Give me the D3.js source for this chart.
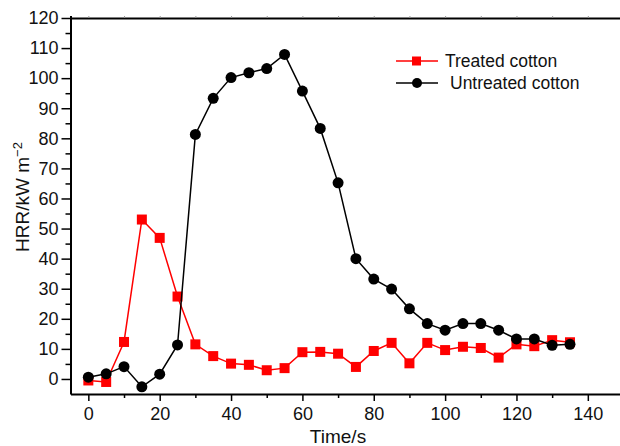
<!DOCTYPE html>
<html>
<head>
<meta charset="utf-8">
<script src="https://cdn.jsdelivr.net/npm/d3@7"></script>
<style>
  html, body { margin: 0; padding: 0; background: #fff; }
  text { font-family: "Liberation Sans", Arial, Helvetica, sans-serif; fill: #111; }
</style>
</head>
<body>
<div id="chart"></div>
<script>
// time axis (s)
const times = [0, 5, 10, 15, 20, 25, 30, 35, 40, 45, 50, 55, 60, 65, 70, 75, 80, 85, 90, 95, 100, 105, 110, 115, 120, 125, 130, 135];
// HRR values
const treated = [-0.5, -1, 12.3, 53, 46.9, 27.4, 11.5, 7.6, 5.1, 4.7, 2.9, 3.6, 8.9, 9, 8.4, 4, 9.3, 12, 5.2, 12, 9.6, 10.7, 10.3, 7.1, 11.5, 10.9, 12.9, 12.2];
const untreated = [0.6, 1.7, 4.1, -2.6, 1.6, 11.3, 81.3, 93.3, 100.2, 101.8, 103.2, 107.9, 95.7, 83.3, 65.2, 40, 33.2, 29.9, 23.3, 18.4, 16.2, 18.4, 18.4, 16.2, 13.3, 13.3, 11.2, 11.5];
const seriesNames = ["Treated cotton", "Untreated cotton"];
const xTicks = [0, 20, 40, 60, 80, 100, 120, 140];
const yTicks = [0, 10, 20, 30, 40, 50, 60, 70, 80, 90, 100, 110, 120];

const w = 620, h = 446;
const svg = d3.select('#chart').append('svg')
    .attr('width', w)
    .attr('height', h);

const x = d3.scaleLinear().domain([-5, 150]).range([70.5, 623.5]);
const y = d3.scaleLinear().domain([-5, 120]).range([394, 18]);

// top frame line with small ticks
svg.append('g')
    .attr('transform', `translate(0,${y(120)})`)
    .call(d3.axisTop(x).tickValues(d3.range(0, 151, 10)).tickSize(2).tickFormat(''))
    .call(g => g.select('.domain').attr('stroke-width', 2))
    .call(g => g.selectAll('.tick line').attr('stroke', '#999'));

// bottom axis, minor then major
svg.append('g')
    .attr('transform', `translate(0,${y(-5)})`)
    .call(d3.axisBottom(x).tickValues(d3.range(10, 141, 20)).tickSize(4).tickFormat(''))
    .call(g => g.select('.domain').remove())
    .call(g => g.selectAll('.tick line').attr('stroke-width', 1.5));
svg.append('g')
    .attr('transform', `translate(0,${y(-5)})`)
    .call(d3.axisBottom(x).tickValues(xTicks).tickSize(7).tickPadding(6).tickSizeOuter(0))
    .call(g => g.select('.domain').attr('stroke-width', 2))
    .call(g => g.selectAll('.tick line').attr('stroke-width', 1.5))
    .call(g => g.selectAll('text').attr('font-size', 18).attr('font-family', '"Liberation Sans", Arial, sans-serif').attr('fill', '#111'));

// left axis, minor then major
svg.append('g')
    .attr('transform', `translate(${x(-5)},0)`)
    .call(d3.axisLeft(y).tickValues(d3.range(-5, 121, 10).filter(v => v > -5)).tickSize(5).tickFormat(''))
    .call(g => g.select('.domain').remove())
    .call(g => g.selectAll('.tick line').attr('stroke-width', 1.5));
svg.append('g')
    .attr('transform', `translate(${x(-5)},0)`)
    .call(d3.axisLeft(y).tickValues(yTicks).tickSize(9).tickPadding(3).tickSizeOuter(0))
    .call(g => g.select('.domain').attr('stroke-width', 2))
    .call(g => g.selectAll('.tick line').attr('stroke-width', 1.5))
    .call(g => g.selectAll('text').attr('font-size', 18).attr('font-family', '"Liberation Sans", Arial, sans-serif').attr('fill', '#111'));

// axis titles
svg.append('text')
    .attr('x', 338).attr('y', 443)
    .attr('text-anchor', 'middle')
    .attr('font-size', 19)
    .text('Time/s');

const yt = svg.append('text')
    .attr('transform', 'translate(29,197) rotate(-90)')
    .attr('text-anchor', 'middle')
    .attr('font-size', 19);
yt.append('tspan').text('HRR/kW m');
yt.append('tspan').attr('dy', -7).attr('font-size', 13).text('\u22122');

const line = d3.line()
    .x((d, i) => x(times[i]))
    .y(d => y(d));

// treated (red squares)
svg.append('path')
    .datum(treated)
    .attr('fill', 'none')
    .attr('stroke', '#ff0000')
    .attr('stroke-width', 1.5)
    .attr('d', line);
svg.append('g')
    .selectAll('rect')
    .data(treated)
    .join('rect')
    .attr('x', (d, i) => x(times[i]) - 5)
    .attr('y', d => y(d) - 5)
    .attr('width', 10)
    .attr('height', 10)
    .attr('fill', '#ff0000');

// untreated (black circles)
svg.append('path')
    .datum(untreated)
    .attr('fill', 'none')
    .attr('stroke', '#000')
    .attr('stroke-width', 1.5)
    .attr('d', line);
svg.append('g')
    .selectAll('circle')
    .data(untreated)
    .join('circle')
    .attr('cx', (d, i) => x(times[i]))
    .attr('cy', d => y(d))
    .attr('r', 5.5)
    .attr('fill', '#000');

// legend
const legend = svg.append('g');
const colors = ['#ff0000', '#000'];
seriesNames.forEach((name, i) => {
    const ly = 61 + i * 22;
    legend.append('line')
        .attr('x1', 396).attr('x2', 438)
        .attr('y1', ly).attr('y2', ly)
        .attr('stroke', colors[i])
        .attr('stroke-width', 1.5);
    if (i === 0) {
        legend.append('rect')
            .attr('x', 412).attr('y', ly - 4.5)
            .attr('width', 9).attr('height', 9)
            .attr('fill', colors[i]);
    } else {
        legend.append('circle')
            .attr('cx', 417).attr('cy', ly).attr('r', 5)
            .attr('fill', colors[i]);
    }
    legend.append('text')
        .attr('x', i === 0 ? 445 : 450)
        .attr('y', ly + 6)
        .attr('font-size', 17.5)
        .text(name);
});
</script>
</body>
</html>
